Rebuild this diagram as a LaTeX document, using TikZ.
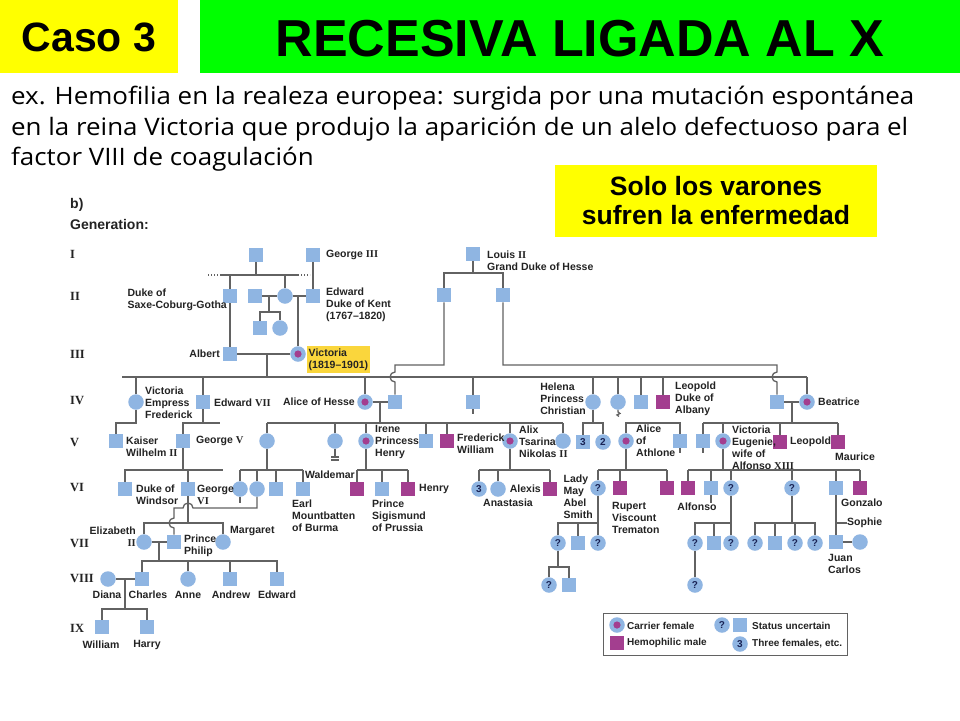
\documentclass[tikz,border=0pt]{standalone}
\usepackage{fontspec}
\setmainfont{Liberation Sans}
\newfontfamily\handfont[FakeStretch=1.08]{Open Sans}
\newfontfamily\genfont{Liberation Serif}
\usetikzlibrary{calc}
\definecolor{pblue}{RGB}{143,181,226}
\definecolor{pmag}{RGB}{163,62,143}
\definecolor{pline}{RGB}{98,98,98}
\definecolor{ptext}{RGB}{35,35,35}
\definecolor{pnavy}{RGB}{25,35,85}
\definecolor{vicy}{RGB}{250,214,60}
\definecolor{casoy}{RGB}{255,255,0}
\definecolor{titleg}{RGB}{0,255,0}
\newcommand{\rnum}[1]{{\genfont\bfseries #1}}

\begin{document}
\begin{tikzpicture}[x=1pt,y=-1pt,
  male/.style={rectangle,fill=pblue,minimum size=14.5pt,inner sep=0pt},
  female/.style={circle,fill=pblue,minimum size=15.5pt,inner sep=0pt},
  carrier/.style={female,path picture={\fill[pmag] (path picture bounding box.center) circle (3.6pt);}},
  hemo/.style={male,fill=pmag},
  qm/.style={font=\fontsize{10}{10}\selectfont\bfseries,text=pnavy},
  lbl/.style={font=\fontsize{10.5}{12}\selectfont\bfseries,text=ptext,inner sep=0pt,align=left},
  gen/.style={font=\genfont\bfseries\fontsize{12.5}{12.5}\selectfont,text=ptext,anchor=west,inner sep=0pt},
  link/.style={draw=pline,line width=1.3pt}]
\fill[white] (0,0) rectangle (960,720);
\useasboundingbox (0,0) rectangle (960,720);

\fill[casoy] (0,0) rectangle (178,73);
\fill[titleg] (200,0) rectangle (960,73);
\node[font=\bfseries\fontsize{41}{41}\selectfont] (caso) at (89,37) {Caso 3};
\node[font=\bfseries\fontsize{52}{52}\selectfont] (title) at (580,39) {RECESIVA LIGADA AL X};
\node[anchor=base west,inner sep=0pt,font=\handfont\fontsize{24}{24}\selectfont] (intro1) at (11,104) {ex. Hemofilia en la realeza europea: surgida por una mutación espontánea};
\node[anchor=base west,inner sep=0pt,font=\handfont\fontsize{24}{24}\selectfont] (intro2) at (11,135) {en la reina Victoria que produjo la aparición de un alelo defectuoso para el};
\node[anchor=base west,inner sep=0pt,font=\handfont\fontsize{24}{24}\selectfont] (intro3) at (11,165) {factor VIII de coagulación};
\fill[casoy] (555,165) rectangle (877,237);
\node[align=center,font=\bfseries\fontsize{26.5}{29}\selectfont] (solo) at (716,201) {Solo los varones\\sufren la enfermedad};

\node[lbl,anchor=west,font=\bfseries\fontsize{14}{14}\selectfont] (bpart) at (70,205) {b)};
\node[lbl,anchor=west,font=\bfseries\fontsize{14}{14}\selectfont] (genhead) at (70,224) {Generation:};
\node[gen] (gI) at (70,254) {I};
\node[gen] (gII) at (70,296) {II};
\node[gen] (gIII) at (70,354) {III};
\node[gen] (gIV) at (70,400) {IV};
\node[gen] (gV) at (70,442) {V};
\node[gen] (gVI) at (70,487) {VI};
\node[gen] (gVII) at (70,543) {VII};
\node[gen] (gVIII) at (70,578) {VIII};
\node[gen] (gIX) at (70,628) {IX};

\coordinate (lvI) at (0,275);
\coordinate (lvIIk) at (0,312);
\coordinate (lvH) at (0,273);
\coordinate (lvHs) at (0,365);
\coordinate (lvIV) at (0,377);
\coordinate (lvV) at (0,423);
\coordinate (lvVI) at (0,470);
\coordinate (lvPh) at (0,508);
\coordinate (lvVII) at (0,523);
\coordinate (lvVIII) at (0,561);
\coordinate (lvMay) at (0,567);
\coordinate (lvIX) at (0,609);

% generations I-III
\node[male] (gIa) at (256,255) {};
\node[male] (geoIII) at (313,255) {};
\node[lbl,anchor=west] (lGeoIII) at (326,255) {George \rnum{III}};
\node[male] (saxe) at (230,296) {};
\node[male] (gIIa) at (255,296) {};
\node[female] (gIIb) at (285,296) {};
\node[male] (edw) at (313,296) {};
\node[male] (gIIc) at (260,328) {};
\node[female] (gIId) at (280,328) {};
\node[lbl,anchor=east] (lSaxe) at (227,300) {Duke of\\Saxe-Coburg-Gotha};
\node[lbl,anchor=west] (lEdw) at (326,305) {Edward\\Duke of Kent\\(1767--1820)};
\node[male] (alb) at (230,354) {};
\node[carrier] (vic) at (298,354) {};
\node[lbl,anchor=east] (lAlb) at (220,354) {Albert};
\node[lbl,anchor=west,fill=vicy,inner xsep=1.5pt,inner ysep=2.5pt] (lVic) at (307,359.5) {Victoria\\(1819--1901)};
\coordinate (lnL) at (220,275);
\coordinate (lnR) at (298,275);
\coordinate (dotL) at (208,275);
\coordinate (dotR) at (310,275);
\coordinate (dII) at (269,296);
\coordinate (dIII) at (267,354);
\draw[link] (gIa) -- (gIa |- lvI);
\draw[link] (lnL) -- (lnR);
\draw[link,dash pattern=on 1.2pt off 1.8pt] (dotL) -- (lnL) (lnR) -- (dotR);
\draw[link] (saxe) -- (saxe |- lvI);
\draw[link] (gIIb) -- (gIIb |- lvI);
\draw[link] (geoIII) -- (edw);
\draw[link] (gIIa) -- (gIIb);
\draw[link] (gIIb) -- (edw);
\draw[link] (dII) -- (dII |- lvIIk);
\draw[link] (gIIc) -- (gIIc |- lvIIk) -- (gIId |- lvIIk) -- (gIId);
\draw[link] (vic |- edw) -- (vic);
\draw[link] (saxe) -- (alb);
\draw[link] (alb) -- (vic);
\draw[link] (dIII) -- (dIII |- lvIV);

% Hesse
\node[male] (louis) at (473,254) {};
\node[lbl,anchor=west] (lLouis) at (487,260.5) {Louis \rnum{II}\\Grand Duke of Hesse};
\node[male] (hsA) at (444,295) {};
\node[male] (hsB) at (503,295) {};
\draw[link] (louis) -- (louis |- lvH);
\draw[link] (hsA) -- (hsA |- lvH) -- (hsB |- lvH) -- (hsB);

% generation IV
\coordinate (ivL) at (122,377);
\node[female] (vef) at (136,402) {};
\node[male] (edVII) at (203,402) {};
\node[carrier] (alice) at (365,402) {};
\node[male] (hesA) at (395,402) {};
\node[male] (gIVm) at (473,402) {};
\node[female] (helena) at (593,402) {};
\node[female] (gIVc) at (618,402) {};
\node[male] (gIVs) at (641,402) {};
\node[hemo] (leo) at (663,402) {};
\node[male] (hesB) at (777,402) {};
\node[carrier] (beat) at (807,402) {};
\node[lbl,anchor=west] (lVEF) at (145,403) {Victoria\\Empress\\Frederick};
\node[lbl,anchor=west] (lEdVII) at (214,403) {Edward \rnum{VII}};
\node[lbl,anchor=east] (lAlice) at (355,402) {Alice of Hesse};
\node[lbl,anchor=east] (lHelena) at (586,399) {Helena\\Princess\\Christian};
\node[lbl,anchor=west] (lLeo) at (675,399) {Leopold\\Duke of\\Albany};
\node[lbl,anchor=west] (lBeat) at (818,402) {Beatrice};
\draw[link] (ivL) -- (beat |- lvIV);
\foreach \p in {vef,edVII,alice,gIVm,helena,gIVc,gIVs,leo,beat}
  \draw[link] (\p) -- (\p |- lvIV);
\draw[link] (hsA) -- (hsA |- lvHs) -| ($(hesA |- lvIV)+(0,-5)$) arc[start angle=90,end angle=270,radius=5pt] -- (hesA);
\draw[link] (hsB) -- (hsB |- lvHs) -| ($(hesB |- lvIV)+(0,-5)$) arc[start angle=90,end angle=270,radius=5pt] -- (hesB);
\draw[link] (alice) -- (hesA);
\draw[link] (hesB) -- (beat);
\draw[link] (gIVm.south) -- ++(0,5);
\draw[link] (gIVc.south) -- ++(0,2) -- ++(2,1.5) -- ++(-3,1.5) -- ++(2,1.5);

% generation V
\coordinate (dAl) at (380,402);
\coordinate (dBe) at (792,402);
\coordinate (geoVr) at (220,423);
\node[male] (kaiser) at (116,441) {};
\node[male] (geoV) at (183,441) {};
\node[female] (vhes) at (267,441) {};
\node[female] (ella) at (335,441) {};
\node[carrier] (irene) at (366,441) {};
\node[male] (gVsq) at (426,441) {};
\node[hemo] (fw) at (447,441) {};
\node[carrier] (alix) at (510,441) {};
\node[female] (gVc) at (563,441) {};
\node[male,qm] (h3) at (583,442) {3};
\node[female,qm] (h2) at (603,442) {2};
\node[carrier] (alath) at (626,441) {};
\node[male] (gVL) at (680,441) {};
\node[male] (bsq) at (703,441) {};
\node[carrier] (ve) at (723,441) {};
\node[hemo] (bleo) at (780,442) {};
\node[hemo] (maur) at (838,442) {};
\node[lbl,anchor=west] (lKaiser) at (126,447) {Kaiser\\Wilhelm \rnum{II}};
\node[lbl,anchor=west] (lGeoV) at (196,441) {George \rnum{V}};
\node[lbl,anchor=west] (lIrene) at (375,442) {Irene\\Princess\\Henry};
\node[lbl,anchor=west] (lFW) at (457,444) {Frederick\\William};
\node[lbl,anchor=west] (lAlix) at (519,442) {Alix\\Tsarina\\Nikolas \rnum{II}};
\node[lbl,anchor=west] (lAlath) at (636,441) {Alice\\of\\Athlone};
\node[lbl,anchor=west] (lVE) at (732,447.5) {Victoria\\Eugenie,\\wife of\\Alfonso \rnum{XIII}};
\node[lbl,anchor=west] (lBLeo) at (790,442) {Leopold};
\node[lbl,anchor=west] (lMaur) at (835,457) {Maurice};
\draw[link] (vef) -- (vef |- lvV) -| (kaiser);
\draw[link] (edVII) -- (edVII |- lvV);
\draw[link] (geoV) -- (geoV |- lvV) -- (geoVr);
\draw[link] (dAl) -- (dAl |- lvV);
\draw[link] (vhes |- lvV) -- (gVc |- lvV);
\foreach \p in {vhes,ella,irene,gVsq,fw,alix,gVc}
  \draw[link] (\p) -- (\p |- lvV);
\draw[link] (helena) -- (helena |- lvV);
\draw[link] (h3) -- (h3 |- lvV) -- (h2 |- lvV) -- (h2);
\draw[link] (alath) -- (alath |- lvV) -- (gVL |- lvV) -- (gVL);
\draw[link] (dBe) -- (dBe |- lvV);
\draw[link] (bsq |- lvV) -- (maur |- lvV);
\foreach \p in {bsq,ve,bleo,maur}
  \draw[link] (\p) -- (\p |- lvV);
\draw[link] (ella.south) -- ++(0,8) coordinate (ellaE);
\draw[link] (ellaE) +(-4,0) -- +(4,0) +(-4,3) -- +(4,3);
\draw[link] (gVL.south) -- ++(0,5);
\draw[link] (bsq.south) -- ++(0,5);

% generation VI
\coordinate (windR) at (223,470);
\node[male] (windsor) at (125,489) {};
\node[male] (geoVI) at (188,489) {};
\node[female] (alba) at (240,489) {};
\node[female] (lou) at (257,489) {};
\node[male] (gVIg) at (276,489) {};
\node[male] (mount) at (303,489) {};
\node[hemo] (wald) at (357,489) {};
\node[male] (sigi) at (382,489) {};
\node[hemo] (henry) at (408,489) {};
\node[female,qm] (a3) at (479,489) {3};
\node[female] (anas) at (498,489) {};
\node[hemo] (alexis) at (550,489) {};
\node[female,qm] (may) at (598,488) {?};
\node[hemo] (rup) at (620,488) {};
\node[hemo] (gVIh) at (667,488) {};
\node[hemo] (alf) at (688,488) {};
\node[male] (jaime) at (711,488) {};
\node[female,qm] (q1) at (731,488) {?};
\node[female,qm] (q2) at (792,488) {?};
\node[male] (juan) at (836,488) {};
\node[hemo] (gonz) at (860,488) {};
\node[lbl,anchor=west] (lWindsor) at (136,495) {Duke of\\Windsor};
\node[lbl,anchor=west] (lGeoVI) at (197,495) {George\\\rnum{VI}};
\node[lbl,anchor=west] (lMount) at (292,516) {Earl\\Mountbatten\\of Burma};
\node[lbl,anchor=east] (lWald) at (355,475) {Waldemar};
\node[lbl,anchor=west] (lSigi) at (372,516) {Prince\\Sigismund\\of Prussia};
\node[lbl,anchor=west] (lHenry) at (419,489) {Henry};
\node[lbl] (lAnas) at (508,503) {Anastasia};
\node[lbl,anchor=east] (lAlexis) at (541,489) {Alexis};
\node[lbl,anchor=east] (lMay) at (593,497) {Lady\\May\\Abel\\Smith};
\node[lbl,anchor=west] (lRup) at (612,518) {Rupert\\Viscount\\Trematon};
\node[lbl] (lAlf) at (697,507) {Alfonso};
\node[lbl,anchor=west] (lGonz) at (841,503) {Gonzalo};
\draw[link] (geoV) -- (geoV |- lvVI);
\draw[link] (windsor) -- (windsor |- lvVI) -- (windR);
\draw[link] (geoVI) -- (geoVI |- lvVI);
\draw[link] (vhes) -- (vhes |- lvVI);
\draw[link] (alba |- lvVI) -- (mount |- lvVI);
\foreach \p in {alba,lou,gVIg,mount}
  \draw[link] (\p) -- (\p |- lvVI);
\draw[link] (irene) -- (irene |- lvVI);
\draw[link] (wald |- lvVI) -- (henry |- lvVI);
\foreach \p in {wald,sigi,henry}
  \draw[link] (\p) -- (\p |- lvVI);
\draw[link] (alix) -- (alix |- lvVI);
\draw[link] (a3 |- lvVI) -- (alexis |- lvVI);
\foreach \p in {a3,anas,alexis}
  \draw[link] (\p) -- (\p |- lvVI);
\draw[link] (alath) -- (alath |- lvVI);
\draw[link] (may |- lvVI) -- (gVIh |- lvVI);
\foreach \p in {may,rup,gVIh}
  \draw[link] (\p) -- (\p |- lvVI);
\draw[link] (ve) -- (ve |- lvVI);
\draw[link] (alf |- lvVI) -- (gonz |- lvVI);
\foreach \p in {alf,jaime,q1,q2,juan,gonz}
  \draw[link] (\p) -- (\p |- lvVI);
\draw[link] (alba.south) -- ++(0,6);
\draw[link] (jaime.south) -- ++(0,8);

% generation VII
\coordinate (dEl) at (159,542);
\node[female] (eliz) at (144,542) {};
\node[male] (phil) at (174,542) {};
\node[female] (marg) at (223,542) {};
\node[female,qm] (m1) at (558,543) {?};
\node[male] (m2) at (578,543) {};
\node[female,qm] (m3) at (598,543) {?};
\node[female,qm] (k1) at (695,543) {?};
\node[male] (k2) at (714,543) {};
\node[female,qm] (k3) at (731,543) {?};
\node[female,qm] (k4) at (755,543) {?};
\node[male] (k5) at (775,543) {};
\node[female,qm] (k6) at (795,543) {?};
\node[female,qm] (k7) at (815,543) {?};
\node[male] (jc) at (836,542) {};
\node[female] (sof) at (860,542) {};
\node[lbl,anchor=east,align=right] (lEliz) at (136,537) {Elizabeth\\\rnum{II}};
\node[lbl,anchor=west] (lPhil) at (184,545.5) {Prince\\Philip};
\node[lbl,anchor=west] (lMarg) at (230,531) {Margaret};
\node[lbl,anchor=west] (lSoph) at (847,523) {Sophie};
\node[lbl,anchor=west] (lJC) at (828,564) {Juan\\Carlos};
\draw[link] (geoVI) -- (geoVI |- lvVII);
\draw[link] (eliz) -- (eliz |- lvVII) -- (marg |- lvVII) -- (marg);
\draw[link] (lou) -- (lou |- lvPh) -- ($(geoVI |- lvPh)+(5,0)$) arc[start angle=0,end angle=180,radius=5pt] -- (phil |- lvPh) -- ($(phil |- lvVII)+(0,-5)$) arc[start angle=90,end angle=270,radius=5pt] -- (phil);
\draw[link] (eliz) -- (phil);
\draw[link] (may) -- (m3);
\draw[link] (m1) -- (m1 |- lvVII) -- (m3 |- lvVII);
\draw[link] (m2) -- (m2 |- lvVII);
\draw[link] (q1) -- (k3);
\draw[link] (k1) -- (k1 |- lvVII) -- (k3 |- lvVII);
\draw[link] (k2) -- (k2 |- lvVII);
\draw[link] (q2) -- (q2 |- lvVII);
\draw[link] (k4) -- (k4 |- lvVII) -- (k7 |- lvVII) -- (k7);
\foreach \p in {k5,k6}
  \draw[link] (\p) -- (\p |- lvVII);
\draw[link] (juan) -- (jc);
\draw[link] (jc |- lvVII) -- (lSoph.west);
\draw[link] (jc) -- (sof);

% generations VIII-IX
\coordinate (dCh) at (125,579);
\node[female] (diana) at (108,579) {};
\node[male] (charles) at (142,579) {};
\node[female] (anne) at (188,579) {};
\node[male] (andrew) at (230,579) {};
\node[male] (edwd) at (277,579) {};
\node[female,qm] (n1) at (549,585) {?};
\node[male] (n2) at (569,585) {};
\node[female,qm] (n3) at (695,585) {?};
\node[male] (will) at (102,627) {};
\node[male] (harry) at (147,627) {};
\node[lbl] (lDiana) at (107,595) {Diana};
\node[lbl] (lCharles) at (148,595) {Charles};
\node[lbl] (lAnne) at (188,595) {Anne};
\node[lbl] (lAndrew) at (231,595) {Andrew};
\node[lbl] (lEdwd) at (277,595) {Edward};
\node[lbl] (lWill) at (101,645) {William};
\node[lbl] (lHarry) at (147,645) {Harry};
\draw[link] (dEl) -- (dEl |- lvVIII);
\draw[link] (charles) -- (charles |- lvVIII) -- (edwd |- lvVIII) -- (edwd);
\foreach \p in {anne,andrew}
  \draw[link] (\p) -- (\p |- lvVIII);
\draw[link] (diana) -- (charles);
\draw[link] (dCh) -- (dCh |- lvIX);
\draw[link] (will) -- (will |- lvIX) -- (harry |- lvIX) -- (harry);
\draw[link] (m1) -- (m1 |- lvMay);
\draw[link] (n1) -- (n1 |- lvMay) -- (n2 |- lvMay) -- (n2);
\draw[link] (k1) -- (n3);

% legend
\coordinate (legA) at (603,613);
\coordinate (legB) at (847,655);
\draw[draw=pline,line width=1pt] (legA) rectangle (legB);
\node[carrier] (lgC) at (617,625) {};
\node[lbl,anchor=west,font=\bfseries\fontsize{10}{10}\selectfont] (lgCt) at (627,626) {Carrier female};
\node[hemo] (lgH) at (617,643) {};
\node[lbl,anchor=west,font=\bfseries\fontsize{10}{10}\selectfont] (lgHt) at (627,643) {Hemophilic male};
\node[female,qm] (lgQ) at (722,625) {?};
\node[male] (lgS) at (740,625) {};
\node[lbl,anchor=west,font=\bfseries\fontsize{10}{10}\selectfont] (lgSt) at (752,626) {Status uncertain};
\node[female,qm] (lg3) at (740,644) {3};
\node[lbl,anchor=west,font=\bfseries\fontsize{10}{10}\selectfont] (lg3t) at (752,644) {Three females, etc.};
\end{tikzpicture}
\end{document}
